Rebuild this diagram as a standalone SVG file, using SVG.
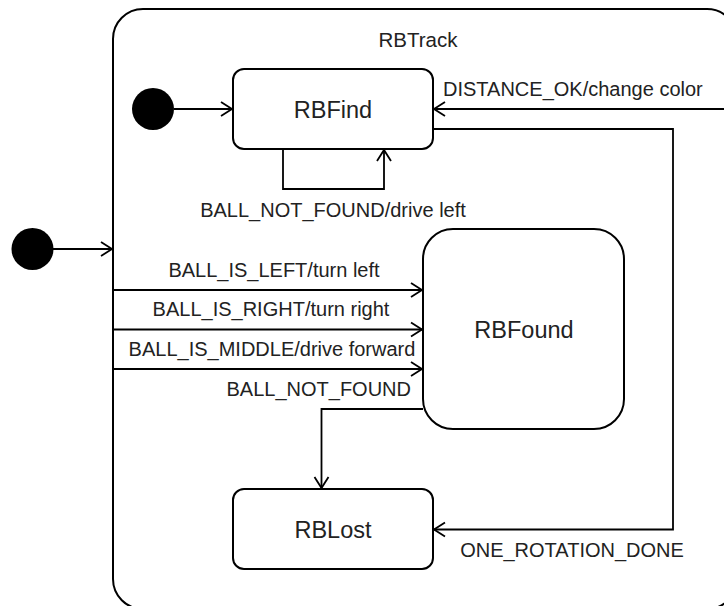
<svg xmlns="http://www.w3.org/2000/svg" width="724" height="606" viewBox="0 0 724 606">
  <style>
    .state { fill: #ffffff; stroke: #000000; stroke-width: 2; }
    .init { fill: #000000; }
    .edge { fill: none; stroke: #000000; stroke-width: 1.8; }
    text { font-family: "Liberation Sans", Arial, sans-serif; fill: #222222; }
    .title { font-size: 20.5px; text-anchor: middle; }
    .name { font-size: 23.5px; text-anchor: middle; }
    .lbl { font-size: 20px; }
  </style>
  <defs>
    <marker id="open" markerUnits="userSpaceOnUse" markerWidth="14" markerHeight="18" viewBox="-12 -8 14 16" refX="0" refY="0" orient="auto">
      <path d="M -11 -7 L 0 0 L -11 7" fill="none" stroke="#000000" stroke-width="1.8"/>
    </marker>
  </defs>

  <!-- composite state -->
  <g id="RBTrack">
    <rect class="state" x="113" y="9" width="624" height="600" rx="30" ry="30"/>
    <text class="title" x="418" y="47">RBTrack</text>
  </g>

  <g id="init1">
    <circle class="init" cx="153" cy="109" r="21"/>
  </g>
  <g id="init2">
    <circle class="init" cx="32.5" cy="249" r="21"/>
  </g>

  <g id="RBFind">
    <rect class="state" x="233" y="69" width="200" height="80" rx="11" ry="11"/>
    <text class="name" x="333" y="118">RBFind</text>
  </g>

  <g id="RBFound">
    <rect class="state" x="423" y="229" width="201" height="200" rx="30" ry="30"/>
    <text class="name" x="524" y="338">RBFound</text>
  </g>

  <g id="RBLost">
    <rect class="state" x="233" y="489" width="200" height="80" rx="11" ry="11"/>
    <text class="name" x="333" y="538">RBLost</text>
  </g>

  <g id="connectors">
    <path class="edge" d="M 174 109 L 232 109" marker-end="url(#open)"/>
    <path class="edge" d="M 53 249 L 112 249" marker-end="url(#open)"/>
    <path class="edge" d="M 283 150 L 283 189 L 384 189 L 384 150" marker-end="url(#open)"/>
    <path class="edge" d="M 113 290 L 422 290" marker-end="url(#open)"/>
    <path class="edge" d="M 113 329.5 L 422 329.5" marker-end="url(#open)"/>
    <path class="edge" d="M 113 369 L 422 369" marker-end="url(#open)"/>
    <path class="edge" d="M 423 409 L 321.5 409 L 321.5 488" marker-end="url(#open)"/>
    <path class="edge" d="M 724 109 L 434 109" marker-end="url(#open)"/>
    <path class="edge" d="M 434 129 L 673 129 L 673 529.5 L 434 529.5" marker-end="url(#open)"/>

    <text class="lbl" x="443" y="96">DISTANCE_OK/change color</text>
    <text class="lbl" x="333" y="217" text-anchor="middle">BALL_NOT_FOUND/drive left</text>
    <text class="lbl" x="274" y="277" text-anchor="middle">BALL_IS_LEFT/turn left</text>
    <text class="lbl" x="271" y="316" text-anchor="middle">BALL_IS_RIGHT/turn right</text>
    <text class="lbl" x="272" y="356" text-anchor="middle">BALL_IS_MIDDLE/drive forward</text>
    <text class="lbl" x="411" y="396" text-anchor="end">BALL_NOT_FOUND</text>
    <text class="lbl" x="572" y="557" text-anchor="middle">ONE_ROTATION_DONE</text>
  </g>
</svg>
